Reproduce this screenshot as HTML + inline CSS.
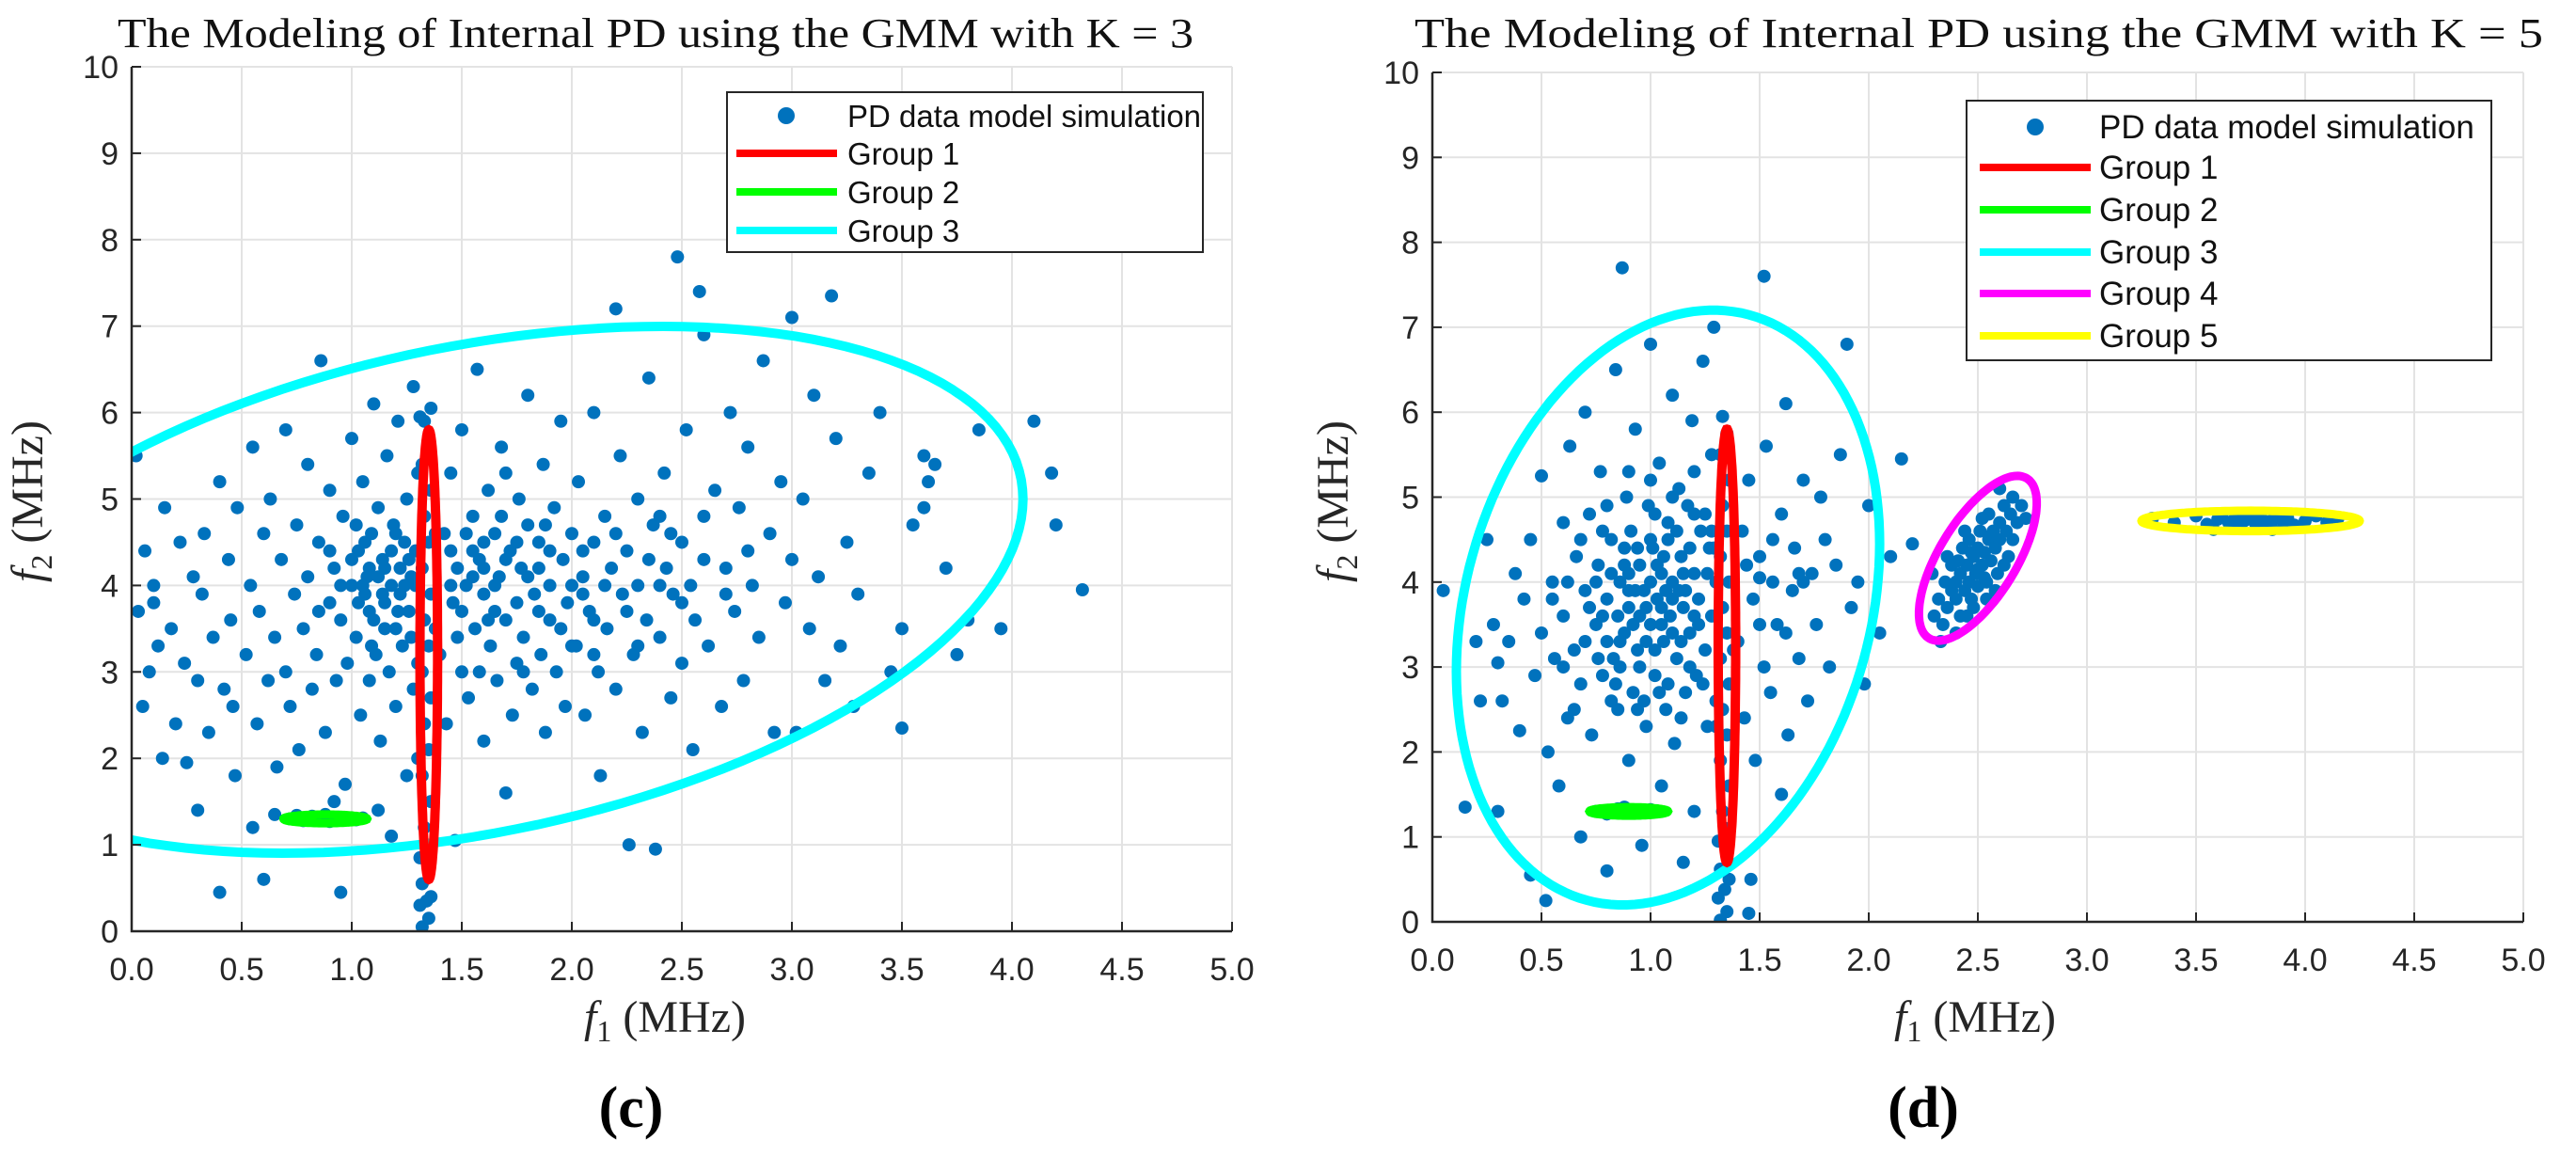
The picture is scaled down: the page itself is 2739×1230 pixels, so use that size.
<!DOCTYPE html>
<html><head><meta charset="utf-8"><style>
html,body{margin:0;padding:0;background:#fff;}
svg{display:block;}
</style></head><body>
<svg id="fig" width="2739" height="1230" viewBox="0 0 2739 1230" xmlns="http://www.w3.org/2000/svg" font-family="Liberation Sans, sans-serif">
<defs>
<clipPath id="clipC"><rect x="140" y="71" width="1170" height="919"/></clipPath>
<clipPath id="clipD"><rect x="1523" y="77" width="1160" height="903"/></clipPath>
</defs>
<rect width="2739" height="1230" fill="#fff"/>
<g id="panelC"></g>
<g id="panelD"></g>
<text x="671" y="1198" font-family="Liberation Serif, serif" font-weight="bold" font-size="62" text-anchor="middle">(c)</text>
<text x="2045" y="1198" font-family="Liberation Serif, serif" font-weight="bold" font-size="62" text-anchor="middle">(d)</text>
</svg>
<script>
// ---------- data ----------
const xTicks = [0,0.5,1,1.5,2,2.5,3,3.5,4,4.5,5];
const xTickLabels = ["0.0","0.5","1.0","1.5","2.0","2.5","3.0","3.5","4.0","4.5","5.0"];
const yTicks = [0,1,2,3,4,5,6,7,8,9,10];
const yTickLabels = ["0","1","2","3","4","5","6","7","8","9","10"];

const leftCloud = [[0.02,5.5],[0.03,3.7],[0.05,2.6],[0.06,4.4],[0.08,3.0],[0.1,4.0],[0.12,3.3],[0.14,2.0],[0.15,4.9],[0.18,3.5],[0.2,2.4],[0.22,4.5],[0.24,3.1],[0.25,1.95],[0.28,4.1],[0.3,2.9],[0.32,3.9],[0.33,4.6],[0.35,2.3],[0.37,3.4],[0.4,5.2],[0.42,2.8],[0.44,4.3],[0.45,3.6],[0.47,1.8],[0.48,4.9],[0.4,0.45],[0.3,1.4],[0.1,3.8],[0.46,2.6],
[0.52,3.2],[0.54,4.0],[0.55,5.6],[0.57,2.4],[0.58,3.7],[0.6,0.6],[0.6,4.6],[0.62,2.9],[0.63,5.0],[0.65,3.4],[0.66,1.9],[0.68,4.3],[0.7,3.0],[0.7,5.8],[0.72,2.6],[0.74,3.9],[0.75,4.7],[0.76,2.1],[0.78,3.5],[0.8,4.1],[0.8,5.4],[0.82,2.8],[0.84,3.2],[0.85,4.5],[0.86,6.6],[0.88,2.3],[0.9,3.8],[0.9,5.1],[0.92,4.2],[0.93,2.9],[0.95,0.45],[0.95,3.6],[0.96,4.8],[0.97,1.7],[0.98,3.1],[1.0,4.0],[1.0,5.7],[0.55,1.2],[0.65,1.35],[0.92,1.5],
[1.02,3.4],[1.03,4.4],[1.04,2.5],[1.05,5.2],[1.06,3.9],[1.07,4.1],[1.08,2.9],[1.09,4.6],[1.1,3.6],[1.1,6.1],[1.11,3.2],[1.12,4.9],[1.13,2.2],[1.14,4.3],[1.15,3.8],[1.16,5.5],[1.17,3.0],[1.18,4.0],[1.19,4.7],[1.2,2.6],[1.2,3.5],[1.21,5.9],[1.22,4.2],[1.23,3.3],[1.24,4.5],[1.25,1.8],[1.25,5.0],[1.26,3.7],[1.27,4.1],[1.28,2.8],[1.28,6.3],[1.29,4.4],[1.3,3.1],[1.3,5.3],[1.12,1.4],[1.18,1.1],[1.05,4.0],[1.15,4.2],[1.22,3.9],[1.08,3.7],
[1.4,3.2],[1.42,4.6],[1.43,2.4],[1.45,5.3],[1.46,3.8],[1.47,1.05],[1.48,4.2],[1.5,3.0],[1.5,5.8],[1.52,4.0],[1.53,2.7],[1.55,4.8],[1.56,3.5],[1.57,6.5],[1.58,4.3],[1.6,2.2],[1.6,3.9],[1.62,5.1],[1.63,3.3],[1.65,4.6],[1.66,2.9],[1.67,4.1],[1.68,5.6],[1.7,3.6],[1.7,1.6],[1.72,4.4],[1.73,2.5],[1.75,3.1],[1.76,5.0],[1.77,4.2],[1.78,3.4],[1.8,4.7],[1.8,6.2],[1.82,2.8],[1.83,3.9],[1.85,4.5],[1.86,3.2],[1.87,5.4],[1.88,2.3],[1.9,4.0],[1.9,3.6],[1.92,4.9],[1.93,3.0],[1.95,5.9],[1.96,4.3],[1.97,2.6],[1.98,3.8],[2.0,4.6],[1.45,4.0],[1.55,4.1],[1.65,3.7],[1.75,4.5],[1.85,4.2],[1.6,4.5],[1.7,5.3],
[2.02,3.3],[2.03,5.2],[2.05,4.1],[2.06,2.5],[2.08,3.7],[2.1,6.0],[2.1,4.5],[2.12,3.0],[2.13,1.8],[2.15,4.8],[2.16,3.5],[2.18,4.2],[2.2,7.2],[2.2,2.8],[2.22,5.5],[2.23,3.9],[2.25,4.4],[2.26,1.0],[2.28,3.2],[2.3,5.0],[2.3,4.0],[2.32,2.3],[2.34,3.6],[2.35,6.4],[2.37,4.7],[2.38,0.95],[2.4,3.4],[2.42,5.3],[2.43,4.2],[2.45,2.7],[2.46,3.9],[2.48,7.8],[2.5,4.5],[2.5,3.1],[2.52,5.8],[2.54,4.0],[2.55,2.1],[2.56,3.6],[2.58,7.4],[2.6,4.8],[2.6,6.9],[2.15,4.0],[2.35,4.3],[2.05,3.9],[2.45,4.6],
[2.62,3.3],[2.65,5.1],[2.68,2.6],[2.7,4.2],[2.72,6.0],[2.74,3.7],[2.76,4.9],[2.78,2.9],[2.8,5.6],[2.82,4.0],[2.85,3.4],[2.87,6.6],[2.9,4.6],[2.92,2.3],[2.95,5.2],[2.97,3.8],[3.0,7.1],[3.0,4.3],[3.02,2.3],[3.05,5.0],[3.08,3.5],[3.1,6.2],[3.12,4.1],[3.15,2.9],[3.18,7.35],[3.2,5.7],[3.22,3.3],[3.25,4.5],[3.28,2.6],[3.3,3.9],[3.35,5.3],[3.4,6.0],[3.45,3.0],[3.5,2.35],[3.5,3.5],
[3.55,4.7],[3.6,5.5],[3.62,5.2],[3.65,5.4],[3.7,4.2],[3.75,3.2],[3.8,3.6],[3.85,5.8],[3.95,3.5],[4.1,5.9],[4.18,5.3],[4.2,4.7],[4.32,3.95],[3.6,4.9]];
const leftDense = [[1.0,4.3],[1.03,3.8],[1.06,4.5],[1.09,3.3],[1.12,4.1],[1.15,3.5],[1.18,4.4],[1.21,3.7],[1.24,4.0],[1.27,3.4],[1.02,4.7],[1.08,4.2],[1.14,3.9],[1.2,4.6],[1.26,4.3],[0.9,4.4],[0.95,4.0],[0.85,3.7],[1.45,4.4],[1.5,3.7],[1.55,4.4],[1.6,4.2],[1.65,4.0],[1.7,4.3],[1.75,3.8],[1.8,4.1],[1.85,3.7],[1.9,4.4],[1.95,3.5],[2.0,4.0],[2.05,4.4],[2.1,3.6],[2.2,4.6],[2.25,3.7],[2.4,4.0],[2.5,3.8],[2.6,4.3],[2.7,3.9],[2.8,4.4],[1.48,3.4],[1.58,3.0],[1.68,4.8],[1.78,3.0],[1.88,4.7],[2.0,3.3],[2.1,3.2],[2.3,3.3],[2.4,4.8],[1.52,4.6],[1.62,3.6]];
const leftColumn = [[1.32,0.05],[1.35,0.15],[1.31,0.3],[1.34,0.35],[1.36,0.4],[1.32,0.55],[1.35,0.7],[1.31,0.85],[1.34,1.0],[1.33,1.2],[1.36,1.5],[1.32,1.8],[1.35,2.1],[1.33,2.4],[1.36,2.7],[1.32,3.0],[1.35,3.3],[1.33,3.6],[1.36,3.9],[1.32,4.2],[1.35,4.5],[1.33,4.8],[1.36,5.1],[1.32,5.4],[1.35,5.7],[1.33,5.9],[1.36,6.05],[1.31,5.95],[1.3,2.0],[1.38,3.5],[1.29,4.0],[1.38,4.6]];
const leftGreenPts = [[0.72,1.3],[0.78,1.28],[0.82,1.33],[0.86,1.3],[0.9,1.27],[0.94,1.32],[0.98,1.3],[1.02,1.29],[1.05,1.31],[0.88,1.35],[0.75,1.34]];

const rightCloud = [[0.05,3.9],[0.15,1.35],[0.2,3.3],[0.22,2.6],[0.25,4.5],[0.28,3.5],[0.3,1.3],[0.3,3.05],[0.32,2.6],[0.35,3.3],[0.38,4.1],[0.4,2.25],[0.42,3.8],[0.45,0.55],[0.45,4.5],[0.47,2.9],[0.5,5.25],[0.5,3.4],[0.52,0.25],[0.53,2.0],[0.55,4.0],[0.56,3.1],[0.58,1.6],[0.6,4.7],[0.6,3.6],[0.62,2.4],[0.63,5.6],[0.65,3.2],[0.66,4.3],[0.68,1.0],[0.68,2.8],[0.7,3.9],[0.7,6.0],[0.72,4.8],[0.73,2.2],[0.75,3.5],[0.76,4.2],[0.77,5.3],[0.78,2.9],[0.8,3.8],[0.8,0.6],[0.82,4.5],[0.83,3.1],[0.84,6.5],[0.85,2.5],[0.86,4.0],[0.87,7.7],[0.88,3.4],[0.89,5.0],[0.9,1.9],[0.9,3.7],[0.91,4.6],[0.92,2.7],[0.93,5.8],[0.94,3.2],[0.95,4.2],[0.96,0.9],[0.97,3.9],[0.98,2.3],[0.99,4.9],[1.0,3.5],[1.0,6.8],[1.01,4.4],[1.02,2.9],[1.03,3.8],[1.04,5.4],[1.05,1.6],[1.05,4.1],[1.06,3.3],[1.07,2.5],[1.08,4.7],[1.09,3.6],[1.1,6.2],[1.1,4.0],[1.11,2.1],[1.12,3.1],[1.13,5.1],[1.14,4.3],[1.15,0.7],[1.15,3.7],[1.16,2.7],[1.17,4.9],[1.18,3.4],[1.19,5.9],[1.2,4.1],[1.2,1.3],[1.21,2.9],[1.22,3.8],[1.23,4.6],[1.24,6.6],[1.25,3.2],[1.26,2.3],[1.27,4.4],[1.28,5.5],[1.28,3.6],[1.29,7.0],[1.3,2.6],[1.3,4.0],
[0.8,3.3],[0.85,3.6],[0.9,4.1],[0.95,3.0],[1.0,4.5],[1.05,3.7],[1.1,3.4],[1.15,4.1],[1.2,3.6],[0.75,4.0],[0.82,2.6],[0.97,2.6],[1.02,4.8],[1.12,4.6],[0.88,4.4],[0.7,3.3],[0.65,2.5],[0.93,3.9],[1.07,3.9],[1.18,3.0],[1.25,4.8],[0.78,4.6],[0.6,3.0],[0.55,3.8],[0.98,3.3],[1.08,2.8],[0.92,3.5],[1.03,4.2],[0.86,3.0],[1.13,3.9],
[1.4,3.3],[1.42,4.6],[1.43,2.4],[1.45,5.2],[1.46,0.5],[1.47,3.8],[1.48,1.9],[1.5,4.3],[1.52,7.6],[1.52,3.0],[1.53,5.6],[1.55,2.7],[1.56,4.0],[1.58,3.5],[1.6,4.8],[1.6,1.5],[1.62,6.1],[1.63,2.2],[1.65,3.9],[1.66,4.4],[1.68,3.1],[1.7,5.2],[1.72,2.6],[1.74,4.1],[1.76,3.5],[1.78,5.0],[1.8,4.5],[1.82,3.0],[1.85,4.2],[1.87,5.5],[1.9,6.8],[1.92,3.7],[1.95,4.0],[1.98,2.8],[2.0,4.9],[2.05,3.4],[2.1,4.3],[2.15,5.45],[2.2,4.45],[1.45,0.1],[1.5,4.05],[1.7,4.0]];
const rightDense = [[0.78,3.6],[0.82,4.1],[0.86,3.3],[0.9,3.9],[0.94,4.4],[0.98,3.7],[1.02,3.2],[1.06,4.3],[1.1,3.8],[1.14,3.3],[1.18,4.4],[1.22,3.5],[1.26,4.1],[0.8,4.9],[0.9,5.3],[1.0,5.2],[1.1,5.0],[1.2,5.3],[0.84,2.8],[0.94,2.5],[1.04,2.7],[1.14,2.4],[1.24,2.8],[0.72,3.7],[0.68,4.5],[0.62,4.0],[1.0,4.0],[1.05,3.5],[0.95,3.6],[0.88,4.2],[1.16,3.9],[1.2,4.8],[0.76,3.1],[1.08,4.5],[1.28,4.6],[1.44,4.2],[1.5,3.5],[1.56,4.5],[1.62,3.4],[1.68,4.1]];
const rightColumn = [[1.32,0.02],[1.35,0.12],[1.31,0.28],[1.34,0.38],[1.36,0.5],[1.32,0.62],[1.35,0.8],[1.31,0.95],[1.34,1.1],[1.33,1.3],[1.36,1.6],[1.32,1.9],[1.35,2.2],[1.33,2.5],[1.36,2.8],[1.32,3.1],[1.35,3.4],[1.33,3.7],[1.36,4.0],[1.32,4.3],[1.35,4.6],[1.33,4.9],[1.36,5.2],[1.32,5.5],[1.35,5.75],[1.33,5.95],[1.3,2.3],[1.38,3.2],[1.29,4.4]];
const rightGreenPts = [[0.75,1.3],[0.8,1.27],[0.85,1.33],[0.9,1.3],[0.95,1.28],[1.0,1.32],[1.04,1.3],[0.88,1.35]];
const cluster4Pts = [[2.3,3.6],[2.32,3.8],[2.34,3.5],[2.35,4.0],[2.36,3.7],[2.38,3.9],[2.38,4.2],[2.4,3.8],[2.4,4.0],[2.42,4.1],[2.42,3.6],[2.43,4.4],[2.44,3.9],[2.45,4.2],[2.46,4.0],[2.46,4.5],[2.47,3.8],[2.48,4.3],[2.49,4.1],[2.5,4.4],[2.5,3.95],[2.51,4.6],[2.52,4.2],[2.53,4.35],[2.54,4.0],[2.55,4.5],[2.55,4.8],[2.56,4.25],[2.57,4.6],[2.58,4.4],[2.59,4.1],[2.6,4.7],[2.6,4.5],[2.62,4.9],[2.63,4.6],[2.64,4.3],[2.65,4.8],[2.66,5.0],[2.68,4.7],[2.7,4.9],[2.72,4.75],[2.44,4.6],[2.48,3.7],[2.52,4.75],[2.36,4.3],[2.58,3.9],[2.4,3.4],[2.62,4.2],[2.5,4.15],[2.47,4.35],[2.53,4.05],[2.56,4.55],[2.41,4.25],[2.45,3.6],[2.6,5.1],[2.29,4.1],[2.33,3.3],[2.66,4.5],[2.54,3.8]];
const cluster5Pts = [[3.3,4.75],[3.4,4.7],[3.5,4.78],[3.55,4.68],[3.6,4.74],[3.62,4.8],[3.65,4.7],[3.68,4.76],[3.7,4.66],[3.72,4.72],[3.75,4.78],[3.77,4.7],[3.8,4.75],[3.82,4.68],[3.85,4.73],[3.88,4.8],[3.9,4.7],[3.92,4.75],[3.95,4.67],[4.0,4.72],[4.05,4.78],[4.1,4.7],[3.7,4.8],[3.78,4.65],[3.85,4.62],[4.15,4.75],[3.58,4.62]];

// ellipse params: [cx, cy, X1, Y1, Y2]
const leftG1 = [1.35, 3.2, 0.04, 0, 2.6];
const leftG2 = [0.88, 1.3, 0.19, 0, 0.05];
const leftG3 = [1.55, 3.95, 2.5, 1.05, 2.86];
const rightG1 = [1.35, 3.25, 0.04, 0, 2.55];
const rightG2 = [0.9, 1.3, 0.18, 0, 0.05];
const rightG3 = [1.08, 3.7, 0.97, 0.75, 3.42];
const rightG4 = [2.5, 4.28, 0.27, 0.65, 0.72];
const rightG5 = [3.75, 4.72, 0.5, 0, 0.12];

const leftLegendLabels = ["PD data model simulation","Group 1","Group 2","Group 3"];
const rightLegendLabels = ["PD data model simulation","Group 1","Group 2","Group 3","Group 4","Group 5"];

// ---------- drawing ----------
const NS = "http://www.w3.org/2000/svg";
function mk(tag, attrs, parent){ const e=document.createElementNS(NS,tag); for(const k in attrs) e.setAttribute(k,attrs[k]); parent.appendChild(e); return e; }
function linScale(d0,d1,r0,r1){ return v => r0 + (v-d0)*(r1-r0)/(d1-d0); }

function drawPanel(g, cfg){
  const sx = linScale(0,5,cfg.x0,cfg.x1);
  const sy = linScale(0,10,cfg.y0,cfg.y1);
  xTicks.forEach(t=>{ const l=mk('line',{x1:sx(t),x2:sx(t),y1:cfg.y0,y2:cfg.y1,stroke:'#e3e3e3','stroke-width':2},g);
      });
  yTicks.forEach(t=>{ const l=mk('line',{x1:cfg.x0,x2:cfg.x1,y1:sy(t),y2:sy(t),stroke:'#e3e3e3','stroke-width':2},g);
      });
  const plot = mk('g',{'clip-path':`url(#${cfg.clip})`},g);
   
  const pg = mk('g',{fill:'#0072bd'},plot);
   
  cfg.points.forEach(arr=>arr.forEach(p=>{ const c=mk('circle',{cx:sx(p[0]),cy:sy(p[1]),r:7},pg);
      }));
  cfg.ellipses.forEach(([par,col,w,name])=>{
    let d='';
    for(let i=0;i<=160;i++){ const t=i/160*2*Math.PI;
      const X=par[0]+par[2]*Math.cos(t), Y=par[1]+par[3]*Math.cos(t)+par[4]*Math.sin(t);
      d+=(i?'L':'M')+sx(X).toFixed(1)+' '+sy(Y).toFixed(1); }
    const p=mk('path',{d:d+'Z',fill:'none',stroke:col,'stroke-width':w},plot);
     
  });
  const ax=mk('path',{d:`M${cfg.x0} ${cfg.y1}L${cfg.x0} ${cfg.y0}L${cfg.x1} ${cfg.y0}`,fill:'none',stroke:'#262626','stroke-width':2.5},g);
   
  xTicks.forEach((t,i)=>{ mk('line',{x1:sx(t),x2:sx(t),y1:cfg.y0,y2:cfg.y0-10,stroke:'#262626','stroke-width':2},g);
    const tx=mk('text',{x:sx(t),y:cfg.y0+52,'font-size':34,'text-anchor':'middle',fill:'#262626'},g); tx.textContent=xTickLabels[i];
      });
  yTicks.forEach((t,i)=>{ mk('line',{x1:cfg.x0,x2:cfg.x0+10,y1:sy(t),y2:sy(t),stroke:'#262626','stroke-width':2},g);
    const tx=mk('text',{x:cfg.x0-14,y:sy(t)+12,'font-size':34,'text-anchor':'end',fill:'#262626'},g); tx.textContent=yTickLabels[i];
      });
  const ti=mk('text',{x:cfg.titleX,y:50,'font-size':44,'font-family':'Liberation Serif, serif','text-anchor':'middle',fill:'#111',textLength:cfg.titleW,lengthAdjust:'spacingAndGlyphs'},g);
  ti.textContent=cfg.title;  
  const xl=mk('text',{x:cfg.xLabelX,y:1097,'font-size':48,'font-family':'Liberation Serif, serif','text-anchor':'middle',fill:'#262626'},g);
  xl.innerHTML='<tspan font-style="italic">f</tspan><tspan font-size="32" dy="10">1</tspan><tspan dy="-10"> (MHz)</tspan>';
   
  const yl=mk('text',{x:0,y:0,'font-size':48,'font-family':'Liberation Serif, serif','text-anchor':'middle',fill:'#262626',transform:`translate(${cfg.yLabelX},533) rotate(-90)`},g);
  yl.innerHTML='<tspan font-style="italic">f</tspan><tspan font-size="32" dy="10">2</tspan><tspan dy="-10"> (MHz)</tspan>';
   
  const L=cfg.legend;
  const lg=mk('g',{},g);  
  mk('rect',{x:L.x,y:L.y,width:L.w,height:L.h,fill:'#fff',stroke:'#262626','stroke-width':2},lg);
  const cols=['#0072bd','#ff0000','#00ff00','#00ffff','#ff00ff','#ffff00'];
  L.labels.forEach((lab,i)=>{
    const ry=L.rows[i];
    if(i===0){ mk('circle',{cx:L.mx,cy:ry,r:9,fill:cols[0]},lg); }
    else { mk('line',{x1:L.lx0,x2:L.lx1,y1:ry,y2:ry,stroke:cols[i],'stroke-width':8},lg); }
    const t=mk('text',{x:L.tx,y:ry+12,'font-size':L.fs,fill:'#111'},lg); t.textContent=lab;
     
  });
}

drawPanel(document.getElementById('panelC'),{
  x0:140,x1:1310,y0:990,y1:71,titleX:697,titleW:1144,clip:'clipC',
  title:"The Modeling of Internal PD using the GMM with K = 3",
  xLabelX:707,yLabelX:45,
  points:[leftCloud,leftDense,leftColumn,leftGreenPts],
  ellipses:[[leftG3,'#00ffff',10,'group-3-ellipse'],[leftG1,'#ff0000',10,'group-1-ellipse'],[leftG2,'#00ff00',9,'group-2-ellipse']],
  legend:{x:773,y:98,w:506,h:170,rows:[123,163,204,245],mx:836,lx0:783,lx1:890,tx:901,fs:33,labels:leftLegendLabels}
});
drawPanel(document.getElementById('panelD'),{
  x0:1523,x1:2683,y0:980,y1:77,titleX:2104,titleW:1200,clip:'clipD',
  title:"The Modeling of Internal PD using the GMM with K = 5",
  xLabelX:2100,yLabelX:1433,
  points:[rightCloud,rightDense,rightColumn,rightGreenPts,cluster4Pts,cluster5Pts],
  ellipses:[[rightG3,'#00ffff',10,'group-3-ellipse'],[rightG1,'#ff0000',10,'group-1-ellipse'],[rightG2,'#00ff00',9,'group-2-ellipse'],[rightG4,'#ff00ff',9,'group-4-ellipse'],[rightG5,'#ffff00',9,'group-5-ellipse']],
  legend:{x:2091,y:107,w:558,h:276,rows:[135,178,223,268,312,357],mx:2164,lx0:2105,lx1:2223,tx:2232,fs:35,labels:rightLegendLabels}
});
</script>
</body></html>
